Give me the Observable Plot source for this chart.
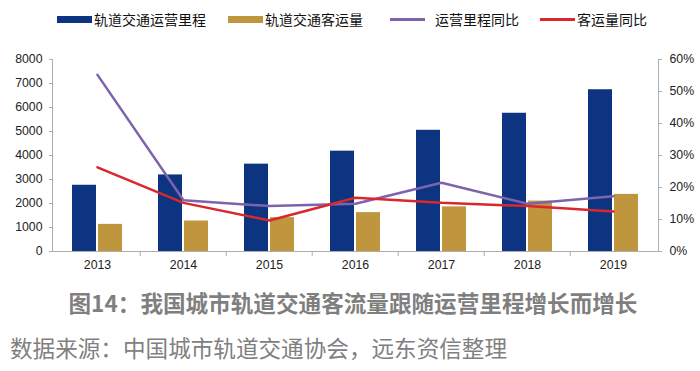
<!DOCTYPE html>
<html><head><meta charset="utf-8">
<script src="https://cdn.jsdelivr.net/npm/d3@7"></script>
<script src="https://cdn.jsdelivr.net/npm/@observablehq/plot@0.6"></script>
<style>
body{margin:0;width:700px;height:371px;position:relative;background:#fff;overflow:hidden;font-family:"Liberation Sans","Noto Sans CJK SC",sans-serif}
.lg{position:absolute;top:11px;height:16px;display:flex;align-items:center;font-family:"Noto Sans CJK SC",sans-serif;font-size:14px;color:#111;line-height:16px;white-space:nowrap}
.sw{display:inline-block;width:35px;margin-right:2px}
#unit{position:absolute;left:73px;top:43px;font-family:"Noto Sans CJK SC",sans-serif;font-weight:bold;font-size:14px;color:#111;line-height:18px}
#chart{position:absolute;left:0;top:36px}
#title{position:absolute;left:0;width:706px;text-align:center;top:290px;font-family:"Noto Sans CJK SC",sans-serif;font-weight:bold;font-size:22.6px;color:#7f7f7f;line-height:26px;white-space:nowrap}
#source{position:absolute;left:10px;top:335px;font-family:"Noto Sans CJK SC",sans-serif;font-size:22.6px;color:#808080;line-height:26px;white-space:nowrap}
</style></head><body>
<div id="legend"></div>
<div id="unit">公里，千万人次</div>
<div id="chart"></div>
<div id="title">图14：我国城市轨道交通客流量跟随运营里程增长而增长</div>
<div id="source">数据来源：中国城市轨道交通协会，远东资信整理</div>
<script>
const years = ["2013", "2014", "2015", "2016", "2017", "2018", "2019"];
const mileage = [2760, 3190, 3640, 4180, 5050, 5760, 6740];
const ridership = [1130, 1270, 1410, 1620, 1860, 2100, 2380];
const mileageGrowth = [55.2, 16.0, 14.2, 14.9, 21.5, 14.9, 17.3];
const ridershipGrowth = [26.3, 15.2, 9.7, 16.8, 15.2, 14.2, 12.5];
const leftTicks = [0, 1000, 2000, 3000, 4000, 5000, 6000, 7000, 8000];
const rightTicks = [0, 10, 20, 30, 40, 50, 60];
const seriesNames = ["轨道交通运营里程", "轨道交通客运量", "运营里程同比", "客运量同比"];
const colors = ["#0d3480", "#bf953e", "#7d63ad", "#d8282d"];

const k = 8000 / 60;
const table = years.map((y, i) => ({year: y, mileage: mileage[i], ridership: ridership[i], mg: mileageGrowth[i] * k, rg: ridershipGrowth[i] * k}));

// legend
const legendLefts = [57, 228, 390, 540];
const legend = document.getElementById("legend");
seriesNames.forEach((n, i) => {
  const d = document.createElement("div");
  d.className = "lg";
  d.style.left = legendLefts[i] + "px";
  const sw = document.createElement("span");
  sw.className = "sw";
  sw.style.background = colors[i];
  sw.style.height = i < 2 ? "7px" : "3px";
  if (i === 2) sw.style.marginRight = "10px";
  d.appendChild(sw);
  d.appendChild(document.createTextNode(n));
  legend.appendChild(d);
});

const W = 700, mL = 52, mR = 42;
const step = (W - mL - mR) / years.length;
const gray = "#adadad";

const chart = Plot.plot({
  width: W,
  height: 246,
  marginTop: 23,
  marginBottom: 31,
  marginLeft: mL,
  marginRight: mR,
  style: {fontFamily: "Liberation Sans, Arial, sans-serif", fontSize: "12px", color: "#222", background: "#fff"},
  x: {domain: years, paddingInner: 0.42, paddingOuter: 0.21},
  y: {domain: [0, 8000]},
  marks: [
    Plot.barY(table, {x: "year", y: "mileage", fill: colors[0], insetRight: 26}),
    Plot.barY(table, {x: "year", y: "ridership", fill: colors[1], insetLeft: 26}),
    Plot.line(table, {x: "year", y: "mg", stroke: colors[2], strokeWidth: 2.5}),
    Plot.line(table, {x: "year", y: "rg", stroke: colors[3], strokeWidth: 2.5}),
    Plot.frame({anchor: "left", stroke: gray}),
    Plot.frame({anchor: "right", stroke: gray}),
    Plot.frame({anchor: "bottom", stroke: gray}),
    Plot.axisY(leftTicks, {anchor: "left", tickSize: 3, tickPadding: 7, stroke: gray, label: null, fontSize: 12.3, tickFormat: d => String(d)}),
    Plot.axisY(rightTicks.map(p => p * k), {anchor: "right", tickSize: 3, tickPadding: 8, stroke: gray, label: null, fontSize: 12.3, tickFormat: d => Math.round(d / k) + "%"}),
    Plot.axisX({tickSize: 0, tickPadding: 9, label: null, fontSize: 12.3}),
    Plot.axisX(years.slice(1), {tickSize: 5, stroke: gray, tickFormat: () => "", label: null, dx: -step / 2})
  ]
});
document.getElementById("chart").appendChild(chart);
</script>
</body></html>
